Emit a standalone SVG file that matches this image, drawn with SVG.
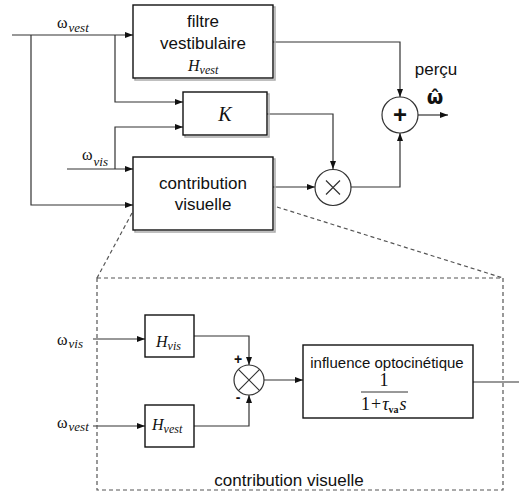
<svg xmlns="http://www.w3.org/2000/svg" width="519" height="493" viewBox="0 0 519 493">
<defs>
<style>
.box{fill:#fff;stroke:#111;stroke-width:1.4}
.sh{fill:none;stroke:#aaa;stroke-width:1.5}
.ln{fill:none;stroke:#333;stroke-width:1.2}
.dash{fill:none;stroke:#555;stroke-width:1.2;stroke-dasharray:4,3}
.circ{fill:#fff;stroke:#333;stroke-width:1.2}
.sans{font-family:"Liberation Sans",Arial,sans-serif;font-size:17px;fill:#111;text-anchor:middle}
.ser{font-family:"Liberation Serif","Times New Roman",serif;fill:#111}
.it{font-style:italic}
</style>
<marker id="ah" viewBox="0 0 8 6" refX="8" refY="3" markerWidth="8" markerHeight="6" orient="auto" markerUnits="userSpaceOnUse">
<path d="M0,0 L8,3 L0,6 Z" fill="#111"/>
</marker>
</defs>
<rect width="519" height="493" fill="#fff"/>

<g id="connectors">
<path class="ln" d="M12,35 H133" marker-end="url(#ah)"/>
<path class="ln" d="M31,35 V205 H133" marker-end="url(#ah)"/>
<path class="ln" d="M115,35 V102 H183" marker-end="url(#ah)"/>
<path class="ln" d="M67,169 H133" marker-end="url(#ah)"/>
<path class="ln" d="M115,169 V127 H183" marker-end="url(#ah)"/>
<path class="ln" d="M273,42 H400 V97" marker-end="url(#ah)"/>
<path class="ln" d="M267,114 H333 V169" marker-end="url(#ah)"/>
<path class="ln" d="M273,187 H315" marker-end="url(#ah)"/>
<path class="ln" d="M351,187 H400 V133" marker-end="url(#ah)"/>
<path class="ln" d="M418,115 H448" marker-end="url(#ah)"/>
<path class="ln" d="M93,339 H145" marker-end="url(#ah)"/>
<path class="ln" d="M93,426 H145" marker-end="url(#ah)"/>
<path class="ln" d="M194,336 H249 V365" marker-end="url(#ah)"/>
<path class="ln" d="M194,426 H249 V395" marker-end="url(#ah)"/>
<path class="ln" d="M264,380 H303" marker-end="url(#ah)"/>
<path class="ln" d="M473,382 H519"/>
<path class="dash" d="M132,213 L97,278"/>
<path class="dash" d="M277,207 L503,278"/>
</g>

<g id="zoom-frame">
<rect class="dash" x="97" y="278" width="406" height="212"/>
<text class="sans" x="289" y="486">contribution visuelle</text>
</g>

<g id="labels">
<text class="ser" x="57" y="28" font-size="16">ω<tspan class="it" font-size="13" dx="1" dy="4">vest</tspan></text>
<text class="ser" x="82" y="160" font-size="16">ω<tspan class="it" font-size="13" dx="1" dy="6">vis</tspan></text>
<text class="ser" x="57" y="345" font-size="16">ω<tspan class="it" font-size="13" dx="1" dy="3">vis</tspan></text>
<text class="ser" x="57" y="428" font-size="16">ω<tspan class="it" font-size="13" dx="1" dy="3">vest</tspan></text>
<text class="sans" x="436" y="75">perçu</text>
<text x="435" y="104" font-family="DejaVu Sans,sans-serif" font-size="19" font-weight="bold" text-anchor="middle" fill="#111">ω̂</text>
<text x="238" y="364" font-family="Liberation Sans,Arial,sans-serif" font-size="14" font-weight="bold" text-anchor="middle" fill="#111">+</text>
<text x="238" y="402" font-family="Liberation Sans,Arial,sans-serif" font-size="14" font-weight="bold" text-anchor="middle" fill="#111">-</text>
</g>

<g id="filtre">
<rect class="sh" x="135" y="7" width="140" height="73"/>
<rect class="box" x="133" y="5" width="140" height="73"/>
<text class="sans" x="203" y="27">filtre</text>
<text class="sans" x="203" y="49">vestibulaire</text>
<text class="ser it" x="188" y="71" font-size="16">H<tspan font-size="12" dy="3">vest</tspan></text>
</g>

<g id="K">
<rect class="sh" x="185" y="94" width="84" height="43"/>
<rect class="box" x="183" y="92" width="84" height="43"/>
<text class="ser it" x="225" y="121" font-size="20" text-anchor="middle">K</text>
</g>

<g id="contribution">
<rect class="sh" x="135" y="159" width="140" height="73"/>
<rect class="box" x="133" y="157" width="140" height="73"/>
<text class="sans" x="203" y="189">contribution</text>
<text class="sans" x="203" y="210">visuelle</text>
</g>

<g id="sum">
<circle class="circ" cx="400" cy="115" r="18"/>
<text x="400" y="123" font-family="Liberation Sans,Arial,sans-serif" font-size="24" font-weight="bold" text-anchor="middle" fill="#111">+</text>
</g>

<g id="mult">
<circle class="circ" cx="333" cy="187.5" r="18"/>
<path class="ln" d="M326,180.5 L340,194.5 M340,180.5 L326,194.5"/>
</g>

<g id="Hvis">
<rect class="box" x="145" y="315" width="49" height="42"/>
<text class="ser it" x="156" y="347" font-size="16">H<tspan font-size="12" dy="3">vis</tspan></text>
</g>

<g id="Hvest">
<rect class="box" x="145" y="405" width="49" height="42"/>
<text class="ser it" x="152" y="430" font-size="16">H<tspan font-size="12" dy="3">vest</tspan></text>
</g>

<g id="comparator">
<circle class="circ" cx="249" cy="380" r="15"/>
<path class="ln" d="M238.4,369.4 L259.6,390.6 M259.6,369.4 L238.4,390.6"/>
</g>

<g id="optocinetique">
<rect class="box" x="303" y="345" width="170" height="73"/>
<text x="387" y="368" font-family="Liberation Sans,Arial,sans-serif" font-size="15" text-anchor="middle" fill="#111">influence optocinétique</text>
<text class="ser" x="384" y="386" font-size="18" text-anchor="middle">1</text>
<path d="M361,392 H408" stroke="#333" stroke-width="1"/>
<text class="ser" x="361" y="410" font-size="18">1<tspan dx="1">+</tspan><tspan class="it" dx="1">τ</tspan><tspan font-size="10" font-weight="bold" dy="3">va</tspan><tspan class="it" dy="-3" dx="1">s</tspan></text>
</g>
</svg>
